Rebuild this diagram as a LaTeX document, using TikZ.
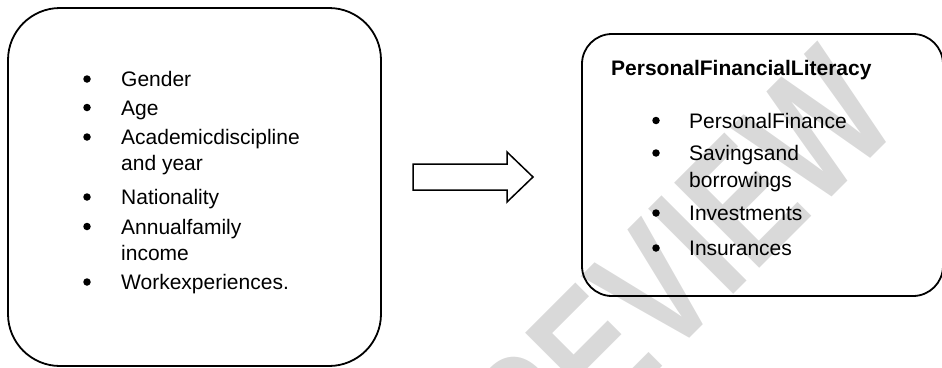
\documentclass[tikz,border=0pt]{standalone}
\usepackage{fontspec}
\setmainfont{Liberation Sans}
\begin{document}
\begin{tikzpicture}[x=1pt,y=-1pt,
  box/.style={draw=black, line width=1.8pt, inner sep=0pt},
  txt/.style={anchor=base west, inner sep=0pt, font=\fontsize{21}{25}\selectfont},
  dot/.style={circle, fill=black, draw=none, minimum size=7.5pt, inner sep=0pt},
  ttl/.style={anchor=base west, inner sep=0pt, font=\fontsize{21}{25}\selectfont\bfseries},
  blockarrow/.style={draw=black, line width=1.5pt, line join=miter},
  wmark/.style={text=black!15, inner sep=0pt, font=\fontsize{175}{175}\selectfont\bfseries}]
\useasboundingbox (0,0) rectangle (942,367);
% watermark
\node[wmark, rotate=45, anchor=north east] (wm) at (818,40) {\scalebox{0.75}[1]{REVIEW}};
% boxes
\node[box, rounded corners=52pt, minimum width=373pt, minimum height=358pt] (lbox) at (194.5,187) {};
\node[box, rounded corners=30pt, minimum width=361pt, minimum height=262pt] (rbox) at (762.5,165) {};
% left list
\node[dot] (lb1) at (87,79) {};     \node[txt] (l1) at (121,86.5) {Gender};
\node[dot] (lb2) at (87,107.5) {};  \node[txt] (l2) at (121,115) {Age};
\node[dot] (lb3) at (87,137) {};    \node[txt] (l3) at (121,144.5) {Academicdiscipline};
\node[txt] (l3b) at (121,170.5) {and year};
\node[dot] (lb4) at (87,197) {};    \node[txt] (l4) at (121,204.5) {Nationality};
\node[dot] (lb5) at (87,226.5) {};  \node[txt] (l5) at (121,234) {Annualfamily};
\node[txt] (l5b) at (121,260.5) {income};
\node[dot] (lb6) at (87,282) {};    \node[txt] (l6) at (121,289.5) {Workexperiences.};
% right title and list
\node[ttl] (title) at (611,75.5) {PersonalFinancialLiteracy};
\node[dot] (rb1) at (656,120.5) {}; \node[txt] (r1) at (689,128) {PersonalFinance};
\node[dot] (rb2) at (656,153) {};   \node[txt] (r2) at (689,160.5) {Savingsand};
\node[txt] (r2b) at (689,187) {borrowings};
\node[dot] (rb3) at (656,213) {};   \node[txt] (r3) at (689,220.5) {Investments};
\node[dot] (rb4) at (656,248) {};   \node[txt] (r4) at (689,255.5) {Insurances};
% block arrow
\coordinate (a1) at (413,164);
\coordinate (a2) at (507,164);
\coordinate (a3) at (507,152);
\coordinate (a4) at (533,177);
\coordinate (a5) at (507,202);
\coordinate (a6) at (507,190);
\coordinate (a7) at (413,190);
\draw[blockarrow] (a1) -- (a2) -- (a3) -- (a4) -- (a5) -- (a6) -- (a7) -- cycle;
\end{tikzpicture}
\end{document}
